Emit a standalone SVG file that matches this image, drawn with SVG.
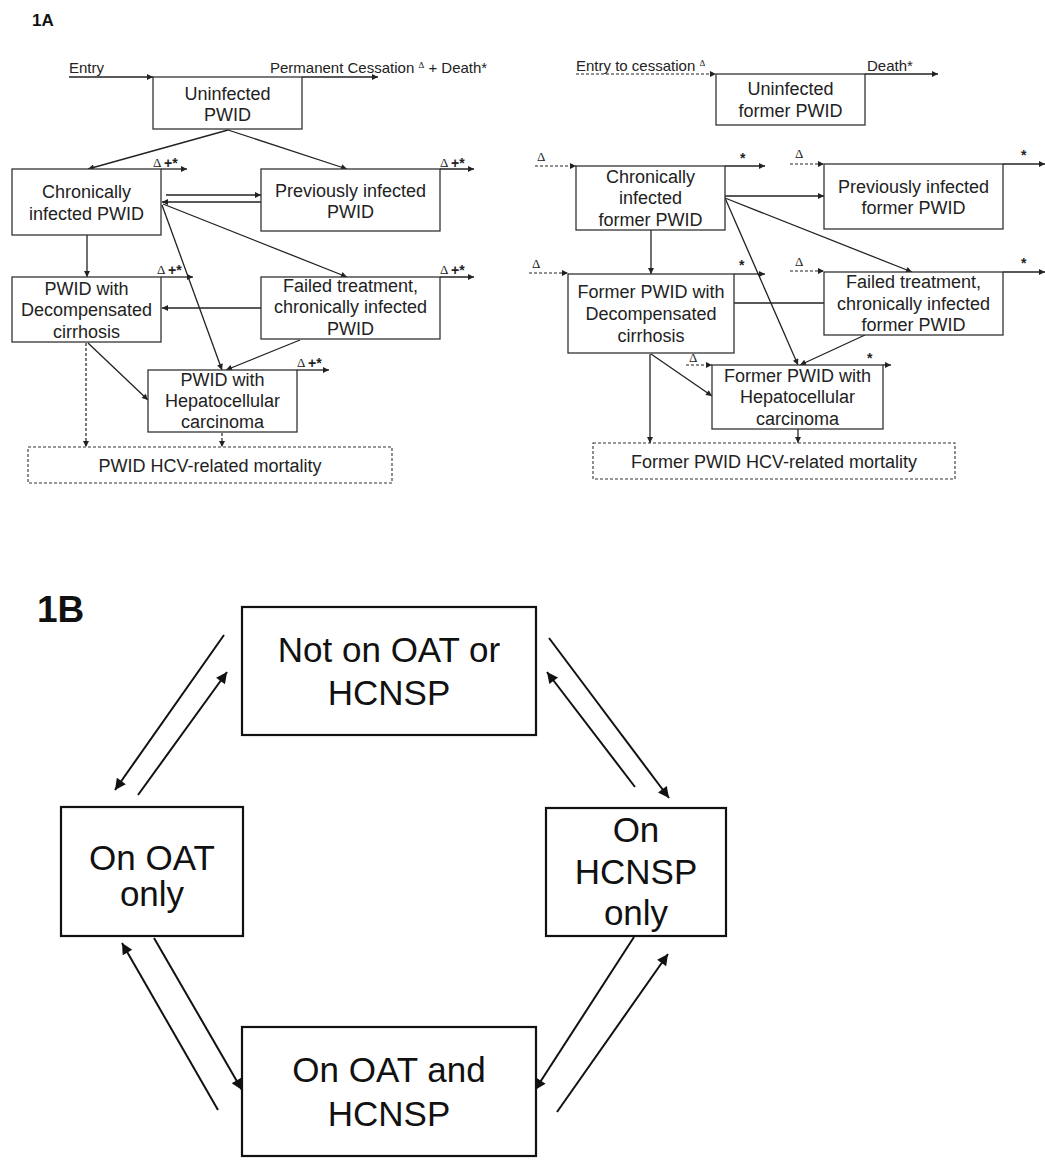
<svg xmlns="http://www.w3.org/2000/svg" width="1045" height="1161" viewBox="0 0 1045 1161">
<style>
.bx{fill:#fff;stroke:#333;stroke-width:1.3}
.dbx{fill:#fff;stroke:#333;stroke-width:1.1;stroke-dasharray:3 2}
.t{font-family:"Liberation Sans",Arial,sans-serif;font-size:18px;fill:#222;text-anchor:middle}
.lb{font-family:"Liberation Sans",Arial,sans-serif;font-size:15px;fill:#222}
.d{font-family:"Liberation Serif","Times New Roman",serif;font-size:13px;fill:#222}
.s{font-family:"Liberation Sans",Arial,sans-serif;font-size:14px;font-weight:bold;fill:#222}
.c{fill:none;stroke:#222;stroke-width:1.3}
.cd{fill:none;stroke:#222;stroke-width:1.2;stroke-dasharray:3 2}
.bb{fill:#fff;stroke:#111;stroke-width:2.2}
.bt{font-family:"Liberation Sans",Arial,sans-serif;font-size:35px;fill:#111;text-anchor:middle}
.bc{fill:none;stroke:#111;stroke-width:2}
.h{font-family:"Liberation Sans",Arial,sans-serif;font-weight:bold;fill:#111}
</style>
<defs>
<marker id="a" viewBox="0 0 10 10" refX="10" refY="5" markerWidth="8" markerHeight="6" markerUnits="userSpaceOnUse" orient="auto"><path d="M0,0 L10,5 L0,10 z" fill="#222"/></marker>
<marker id="b" viewBox="0 0 10 10" refX="10" refY="5" markerWidth="16" markerHeight="11" markerUnits="userSpaceOnUse" orient="auto"><path d="M0,0 L10,5 L0,10 z" fill="#111"/></marker>
</defs>
<rect width="1045" height="1161" fill="#fff"/>
<text class="h" x="32" y="26" font-size="17">1A</text>
<text class="h" x="37" y="622" font-size="37">1B</text>

<!-- labels 1A -->
<g id="labels">
<text class="lb" x="69" y="73">Entry</text>
<text class="lb" x="270" y="73">Permanent Cessation <tspan font-size="9" dy="-5" font-family="Liberation Serif,serif">Δ</tspan><tspan dy="5"> + Death*</tspan></text>
<text class="d" x="153" y="167">Δ</text><text class="s" x="164" y="168">+*</text>
<text class="d" x="440" y="167">Δ</text><text class="s" x="451" y="168">+*</text>
<text class="d" x="157" y="274">Δ</text><text class="s" x="168" y="275">+*</text>
<text class="d" x="440" y="274">Δ</text><text class="s" x="451" y="275">+*</text>
<text class="d" x="297" y="367">Δ</text><text class="s" x="308" y="368">+*</text>
<text class="lb" x="576" y="71">Entry to cessation <tspan font-size="9" dy="-5" font-family="Liberation Serif,serif">Δ</tspan></text>
<text class="lb" x="867" y="71">Death*</text>
<text class="d" x="537" y="161">Δ</text><text class="s" x="740" y="163">*</text>
<text class="d" x="795" y="158">Δ</text><text class="s" x="1021" y="160">*</text>
<text class="d" x="532" y="268">Δ</text><text class="s" x="739" y="270">*</text>
<text class="d" x="795" y="266">Δ</text><text class="s" x="1021" y="268">*</text>
<text class="d" x="689" y="362">Δ</text><text class="s" x="867" y="363">*</text>
</g>

<g id="connectors">
<path class="c" d="M69,77 L153,77" marker-end="url(#a)"/>
<path class="c" d="M302,77 L378,77" marker-end="url(#a)"/>
<path class="c" d="M228,130 L88,169" marker-end="url(#a)"/>
<path class="c" d="M228,130 L347,169" marker-end="url(#a)"/>
<path class="c" d="M161,169 L187,169" marker-end="url(#a)"/>
<path class="c" d="M440,169 L474,169" marker-end="url(#a)"/>
<path class="c" d="M166,195 L261,195" marker-end="url(#a)"/>
<path class="c" d="M261,202 L162,202" marker-end="url(#a)"/>
<path class="c" d="M163,204 L347,277" marker-end="url(#a)"/>
<path class="c" d="M162,205 L222,370" marker-end="url(#a)"/>
<path class="c" d="M87,235 L87,277" marker-end="url(#a)"/>
<path class="c" d="M161,277 L193,277" marker-end="url(#a)"/>
<path class="c" d="M440,277 L474,277" marker-end="url(#a)"/>
<path class="c" d="M261,308 L162,308" marker-end="url(#a)"/>
<path class="c" d="M300,340 L226,370" marker-end="url(#a)"/>
<path class="c" d="M88,343 L148,400" marker-end="url(#a)"/>
<path class="c" d="M297,370 L329,370" marker-end="url(#a)"/>
<path class="cd" d="M86,343 L86,447" marker-end="url(#a)"/>
<path class="cd" d="M222,433 L222,447" marker-end="url(#a)"/>

<path class="cd" d="M576,74 L716,74" marker-end="url(#a)"/>
<path class="c" d="M865,74 L938,74" marker-end="url(#a)"/>
<path class="cd" d="M535,166 L576,166" marker-end="url(#a)"/>
<path class="c" d="M725,166 L765,166" marker-end="url(#a)"/>
<path class="cd" d="M790,164 L824,164" marker-end="url(#a)"/>
<path class="c" d="M1003,164 L1045,164" marker-end="url(#a)"/>
<path class="c" d="M725,196 L824,196" marker-end="url(#a)"/>
<path class="c" d="M725,198 L912,272" marker-end="url(#a)"/>
<path class="c" d="M725,198 L798,365" marker-end="url(#a)"/>
<path class="c" d="M651,230 L651,274" marker-end="url(#a)"/>
<path class="cd" d="M529,273 L568,273" marker-end="url(#a)"/>
<path class="c" d="M734,274 L765,274" marker-end="url(#a)"/>
<path class="cd" d="M790,271 L824,271" marker-end="url(#a)"/>
<path class="c" d="M1003,272 L1045,272" marker-end="url(#a)"/>
<path class="c" d="M734,303 L824,303"/>
<path class="c" d="M865,335 L800,365" marker-end="url(#a)"/>
<path class="cd" d="M686,365 L712,365" marker-end="url(#a)"/>
<path class="c" d="M883,365 L891,365" marker-end="url(#a)"/>
<path class="c" d="M651,354 L712,396" marker-end="url(#a)"/>
<path class="c" d="M650,354 L650,443" marker-end="url(#a)"/>
<path class="c" d="M798,429 L798,443" marker-end="url(#a)"/>

<path class="bc" d="M224,635 L115,790" marker-end="url(#b)"/>
<path class="bc" d="M138,795 L227,672" marker-end="url(#b)"/>
<path class="bc" d="M549,638 L669,798" marker-end="url(#b)"/>
<path class="bc" d="M635,787 L547,672" marker-end="url(#b)"/>
<path class="bc" d="M154,938 L242,1090" marker-end="url(#b)"/>
<path class="bc" d="M218,1110 L122,943" marker-end="url(#b)"/>
<path class="bc" d="M634,937 L535,1090" marker-end="url(#b)"/>
<path class="bc" d="M557,1112 L668,954" marker-end="url(#b)"/>
</g>

<g id="uninfected-pwid"><rect class="bx" x="153" y="77" width="149" height="52"/><text class="t" x="227.5" y="100">Uninfected</text><text class="t" x="227.5" y="121">PWID</text></g>
<g id="chronic-pwid"><rect class="bx" x="12" y="169" width="149" height="66"/><text class="t" x="86.5" y="198">Chronically</text><text class="t" x="86.5" y="220">infected PWID</text></g>
<g id="previous-pwid"><rect class="bx" x="261" y="169" width="179" height="62"/><text class="t" x="350.5" y="197">Previously infected</text><text class="t" x="350.5" y="218">PWID</text></g>
<g id="decomp-pwid"><rect class="bx" x="12" y="277" width="149" height="65"/><text class="t" x="86.5" y="295">PWID with</text><text class="t" x="86.5" y="316">Decompensated</text><text class="t" x="86.5" y="338">cirrhosis</text></g>
<g id="failed-pwid"><rect class="bx" x="261" y="277" width="179" height="62"/><text class="t" x="350.5" y="292">Failed treatment,</text><text class="t" x="350.5" y="313">chronically infected</text><text class="t" x="350.5" y="335">PWID</text></g>
<g id="hcc-pwid"><rect class="bx" x="148" y="370" width="149" height="62"/><text class="t" x="222.5" y="386">PWID with</text><text class="t" x="222.5" y="407">Hepatocellular</text><text class="t" x="222.5" y="428">carcinoma</text></g>
<g id="mortality-pwid"><rect class="dbx" x="28" y="447" width="364" height="36"/><text class="t" x="210" y="472">PWID HCV-related mortality</text></g>

<g id="uninfected-former"><rect class="bx" x="716" y="74" width="149" height="51"/><text class="t" x="790.5" y="95">Uninfected</text><text class="t" x="790.5" y="117">former PWID</text></g>
<g id="chronic-former"><rect class="bx" x="576" y="166" width="149" height="64"/><text class="t" x="650.5" y="183">Chronically</text><text class="t" x="650.5" y="204">infected</text><text class="t" x="650.5" y="226">former PWID</text></g>
<g id="previous-former"><rect class="bx" x="824" y="164" width="179" height="65"/><text class="t" x="913.5" y="193">Previously infected</text><text class="t" x="913.5" y="214">former PWID</text></g>
<g id="decomp-former"><rect class="bx" x="568" y="274" width="166" height="79"/><text class="t" x="651" y="298">Former PWID with</text><text class="t" x="651" y="320">Decompensated</text><text class="t" x="651" y="342">cirrhosis</text></g>
<g id="failed-former"><rect class="bx" x="824" y="272" width="179" height="63"/><text class="t" x="913.5" y="288">Failed treatment,</text><text class="t" x="913.5" y="310">chronically infected</text><text class="t" x="913.5" y="331">former PWID</text></g>
<g id="hcc-former"><rect class="bx" x="712" y="365" width="171" height="64"/><text class="t" x="797.5" y="382">Former PWID with</text><text class="t" x="797.5" y="403">Hepatocellular</text><text class="t" x="797.5" y="425">carcinoma</text></g>
<g id="mortality-former"><rect class="dbx" x="593" y="443" width="362" height="36"/><text class="t" x="774" y="468">Former PWID HCV-related mortality</text></g>

<g id="not-on"><rect class="bb" x="242" y="607" width="294" height="128"/><text class="bt" x="389" y="662">Not on OAT or</text><text class="bt" x="389" y="705">HCNSP</text></g>
<g id="oat-only"><rect class="bb" x="61" y="807" width="182" height="129"/><text class="bt" x="152" y="870">On OAT</text><text class="bt" x="152" y="906">only</text></g>
<g id="hcnsp-only"><rect class="bb" x="546" y="808" width="180" height="128"/><text class="bt" x="636" y="842">On</text><text class="bt" x="636" y="884">HCNSP</text><text class="bt" x="636" y="925">only</text></g>
<g id="oat-and-hcnsp"><rect class="bb" x="242" y="1027" width="294" height="129"/><text class="bt" x="389" y="1082">On OAT and</text><text class="bt" x="389" y="1126">HCNSP</text></g>
</svg>
